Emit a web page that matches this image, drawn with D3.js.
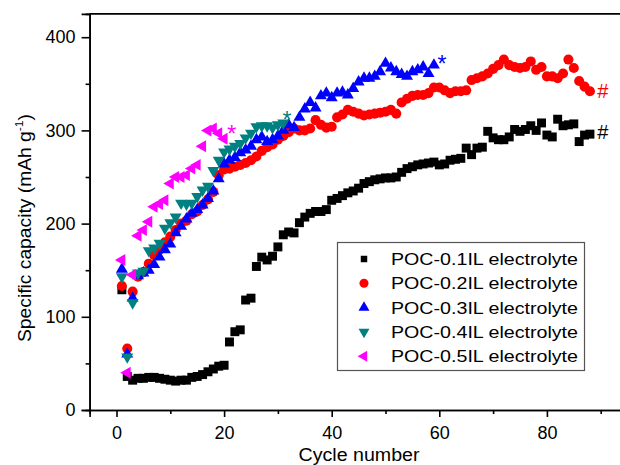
<!DOCTYPE html>
<html>
<head>
<meta charset="utf-8">
<script src="https://cdn.jsdelivr.net/npm/d3@7"></script>
<style>
  html, body { margin: 0; padding: 0; background: #fff; }
  svg { display: block; font-family: "Liberation Sans", Arial, sans-serif; }
</style>
</head>
<body>
<svg id="chart" width="620" height="465"></svg>
<script>
// ---- data ----
const seriesNames = ["POC-0.1IL electrolyte", "POC-0.2IL electrolyte", "POC-0.3IL electrolyte", "POC-0.4IL electrolyte", "POC-0.5IL electrolyte"];
const seriesColors = ["#000000", "#FF0000", "#0000FF", "#008080", "#FF00FF"];

const poc01 = [129, 36, 32, 34, 34, 35, 35, 34, 33, 32, 31, 32, 32, 35, 36, 38, 41, 44, 47, 48,
  73, 84, 86, 118, 120, 154, 164, 161, 165, 175, 188, 191, 190, 201, 207, 211, 213, 213, 215, 225,
  227, 230, 233, 235, 238, 243, 245, 247, 248, 249, 249, 250, 255, 259, 261, 263, 264, 265, 266, 263,
  264, 268, 269, 270, 281, 274, 281, 282, 299, 292, 290, 290, 293, 301, 299, 301, 305, 300, 308, 295,
  293, 312, 305, 306, 307, 288, 295, 296];
const poc02 = [133, 66, 127, 143, 148, 157, 166, 172, 180, 186, 193, 200, 203, 210, 213, 220, 226, 234, 252, 258,
  259, 261, 263, 265, 268, 272, 278, 282, 285, 290, 294, 298, 302, 300, 300, 302, 311, 306, 303, 304,
  314, 317, 322, 320, 318, 316, 317, 318, 319, 320, 322, 318, 330, 334, 337, 338, 338, 340, 346, 346,
  343, 340, 342, 342, 343, 354, 356, 358, 361, 366, 370, 376, 370, 368, 367, 368, 374, 365, 368, 358,
  358, 356, 361, 376, 367, 353, 347, 342];
const poc03 = [151, 60, 120, 144, 147, 150, 156, 164, 172, 178, 190, 197, 205, 211, 215, 220, 227, 235, 248, 264,
  268, 271, 276, 279, 283, 290, 293, 288, 290, 294, 300, 306, 303, 314, 323, 330, 324, 337, 340, 335,
  340, 341, 338, 345, 352, 356, 356, 358, 363, 372, 367, 363, 360, 358, 363, 365, 368, 361, 370];
const poc04 = [143, 57, 115, 147, 149, 171, 174, 179, 195, 201, 207, 222, 221, 222, 229, 236, 240, 257, 268, 277,
  280, 283, 286, 292, 297, 304, 305, 305, 303, 306, 308];
const poc05 = [161, 40, 145, 187, 193, 202, 218, 221, 225, 243, 250, 250, 252, 259, 263, 283, 300, 302, 297, 291];

const xMajorTicks = [0, 20, 40, 60, 80];
const xMinorTicks = [10, 30, 50, 70, 90];
const yMajorTicks = [0, 100, 200, 300, 400];
const yMinorTicks = [50, 150, 250, 350];

// annotation marks: data position of glyph centre
const noteX = [60.5, 31.7, 21.4, 90.4, 90.4];
const noteY = [377, 317, 302, 342, 298];
const noteText = ["*", "*", "*", "#", "#"];
const noteColor = ["#0000FF", "#008080", "#FF00FF", "#FF0000", "#000000"];

// ---- chart ----
const svg = d3.select("#chart");
const x = d3.scaleLinear().domain([-5, 95]).range([89.6, 627.6]);
const y = d3.scaleLinear().domain([0, 425]).range([410, 13.9]);

const allSeries = [poc01, poc02, poc03, poc04, poc05].map((vals, i) => ({
  name: seriesNames[i], color: seriesColors[i],
  points: vals.map((v, k) => ({ c: k + 1, v }))
}));

const shapes = [
  { type: d3.symbolSquare, size: 80, rot: 0 },
  { type: d3.symbolCircle, size: 80, rot: 0 },
  { type: d3.symbolTriangle, size: 62, rot: 0 },
  { type: d3.symbolTriangle, size: 62, rot: 180 },
  { type: d3.symbolTriangle, size: 62, rot: -90 }
];

// markers
allSeries.forEach((s, i) => {
  const sh = shapes[i];
  const path = d3.symbol().type(sh.type).size(sh.size)();
  svg.append("g").selectAll("path").data(s.points).join("path")
    .attr("d", path)
    .attr("transform", d => `translate(${x(d.c)},${y(d.v)}) rotate(${sh.rot})`)
    .attr("fill", s.color);
});

// axes
const axisStroke = 1.6;
const gy = svg.append("g").attr("transform", `translate(${x(-5)},0)`)
  .call(d3.axisLeft(y).tickValues(yMajorTicks).tickSize(8).tickPadding(6).tickFormat(d3.format("d")));
const gy2 = svg.append("g").attr("transform", `translate(${x(-5)},0)`)
  .call(d3.axisLeft(y).tickValues(yMinorTicks).tickSize(4).tickFormat(""));
const gx = svg.append("g").attr("transform", `translate(0,${y(0)})`)
  .call(d3.axisBottom(x).tickValues(xMajorTicks).tickSize(7).tickPadding(9).tickFormat(d3.format("d")));
const gx2 = svg.append("g").attr("transform", `translate(0,${y(0)})`)
  .call(d3.axisBottom(x).tickValues(xMinorTicks).tickSize(4).tickFormat(""));
[gy, gy2, gx, gx2].forEach(g => {
  g.selectAll("path.domain").attr("stroke", "#000").attr("stroke-width", axisStroke);
  g.selectAll(".tick line").attr("stroke", "#000").attr("stroke-width", axisStroke);
  g.selectAll(".tick text").attr("font-size", 18).attr("fill", "#000")
    .attr("font-family", "Liberation Sans, Arial, sans-serif");
});
// top frame
svg.append("line").attr("x1", x(-5)).attr("x2", x(95)).attr("y1", y(425)).attr("y2", y(425))
  .attr("stroke", "#000").attr("stroke-width", axisStroke);
svg.append("line").attr("x1", x(95)).attr("x2", x(95)).attr("y1", y(425)).attr("y2", y(0))
  .attr("stroke", "#000").attr("stroke-width", axisStroke);

// axis titles
svg.append("text").attr("x", 359).attr("y", 461).attr("text-anchor", "middle")
  .attr("font-size", 17.5).attr("textLength", 121).attr("lengthAdjust", "spacingAndGlyphs")
  .text("Cycle number");
const yt = svg.append("text").attr("transform", "translate(31,228) rotate(-90)")
  .attr("text-anchor", "middle").attr("font-size", 17.5)
  .attr("textLength", 228).attr("lengthAdjust", "spacingAndGlyphs");
yt.append("tspan").text("Specific capacity (mAh g");
yt.append("tspan").attr("font-size", 11).attr("dy", -8).text("-1");
yt.append("tspan").attr("dy", 8).text(")");

// annotations
noteText.forEach((t, i) => {
  svg.append("text").attr("x", x(noteX[i])).attr("y", y(noteY[i]) + (t === "*" ? 13 : 7))
    .attr("text-anchor", "middle").attr("font-size", t === "*" ? 23 : 20).attr("fill", noteColor[i]).text(t);
});

// legend
const lg = svg.append("g");
lg.append("rect").attr("x", 337.5).attr("y", 242.5).attr("width", 247).attr("height", 128)
  .attr("fill", "#fff").attr("stroke", "#555").attr("stroke-width", 1.2);
allSeries.forEach((s, i) => {
  const cy = 259 + i * 24.3;
  const sh = shapes[i];
  const lsize = i === 0 ? 42 : (i === 1 ? 64 : 52);
  lg.append("path").attr("d", d3.symbol().type(sh.type).size(lsize)())
    .attr("transform", `translate(364,${cy}) rotate(${sh.rot})`).attr("fill", s.color);
  lg.append("text").attr("x", 391).attr("y", cy + 6).attr("font-size", 17)
    .attr("textLength", 187).attr("lengthAdjust", "spacingAndGlyphs").text(s.name);
});
</script>
</body>
</html>
